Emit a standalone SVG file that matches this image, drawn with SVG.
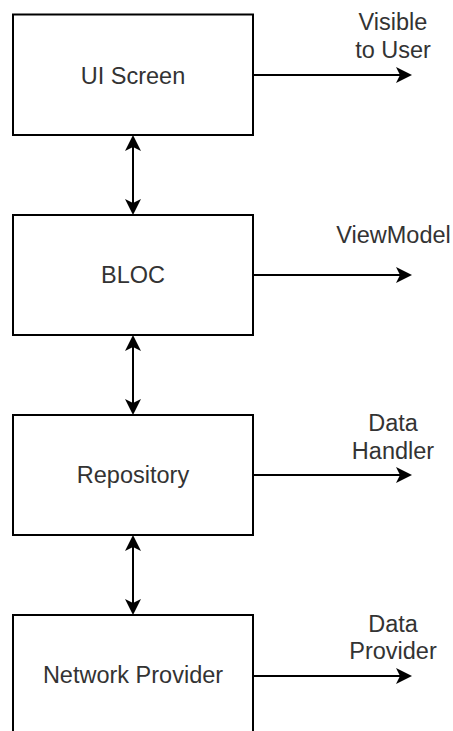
<svg xmlns="http://www.w3.org/2000/svg" width="453" height="731" viewBox="0 0 453 731">
  <style>
    .box { fill: #ffffff; stroke: #000000; stroke-width: 2; }
    .lbl { font-family: "Liberation Sans", Arial, sans-serif; font-size: 23.5px; fill: #333333; text-anchor: middle; }
    .edge { stroke: #000000; stroke-width: 2; fill: none; }
  </style>
  <defs>
    <marker id="arr" viewBox="0 0 16 16" refX="4" refY="8" markerWidth="16" markerHeight="16" markerUnits="userSpaceOnUse" orient="auto-start-reverse">
      <path d="M0,0 L16,8 L0,16 L4,8 Z" fill="#000000"/>
    </marker>
  </defs>
  <rect width="453" height="731" fill="#ffffff"/>

  <g id="node-ui-screen">
    <rect class="box" x="13" y="14.5" width="240" height="120.5"/>
    <text class="lbl" x="133" y="83.5">UI Screen</text>
  </g>
  <g id="node-bloc">
    <rect class="box" x="13" y="215" width="240" height="120"/>
    <text class="lbl" x="133" y="283">BLOC</text>
  </g>
  <g id="node-repository">
    <rect class="box" x="13" y="415" width="240" height="120"/>
    <text class="lbl" x="133" y="483">Repository</text>
  </g>
  <g id="node-network-provider">
    <rect class="box" x="13" y="615" width="240" height="140"/>
    <text class="lbl" x="133" y="683">Network Provider</text>
  </g>

  <g id="label-visible">
    <text class="lbl" x="393" y="30">Visible</text>
    <text class="lbl" x="393" y="58">to User</text>
  </g>
  <g id="label-viewmodel">
    <text class="lbl" x="393.5" y="243">ViewModel</text>
  </g>
  <g id="label-data-handler">
    <text class="lbl" x="393" y="431">Data</text>
    <text class="lbl" x="393" y="458.5">Handler</text>
  </g>
  <g id="label-data-provider">
    <text class="lbl" x="393" y="632">Data</text>
    <text class="lbl" x="393" y="658.5">Provider</text>
  </g>

  <g id="connectors">
    <line class="edge" x1="133" y1="147" x2="133" y2="203" marker-start="url(#arr)" marker-end="url(#arr)"/>
    <line class="edge" x1="133" y1="347" x2="133" y2="403" marker-start="url(#arr)" marker-end="url(#arr)"/>
    <line class="edge" x1="133" y1="547" x2="133" y2="603" marker-start="url(#arr)" marker-end="url(#arr)"/>
    <line class="edge" x1="253" y1="75" x2="400" y2="75" marker-end="url(#arr)"/>
    <line class="edge" x1="253" y1="275" x2="400" y2="275" marker-end="url(#arr)"/>
    <line class="edge" x1="253" y1="475" x2="400" y2="475" marker-end="url(#arr)"/>
    <line class="edge" x1="253" y1="676" x2="400" y2="676" marker-end="url(#arr)"/>
  </g>
</svg>
